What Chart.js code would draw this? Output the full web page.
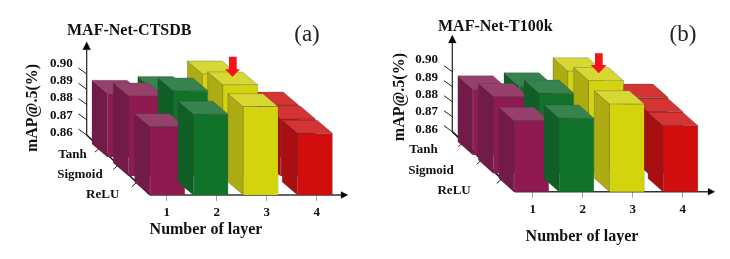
<!DOCTYPE html>
<html>
<head>
<meta charset="utf-8">
<style>
html,body{margin:0;padding:0;background:#fff;width:730px;height:259px;overflow:hidden}
canvas{position:absolute;top:0}
</style>
<script src="https://cdn.jsdelivr.net/npm/chart.js@4/dist/chart.umd.min.js"></script>
</head>
<body>
<canvas id="panelA" width="365" height="259" style="left:0"></canvas>
<canvas id="panelB" width="365" height="259" style="left:365px"></canvas>
<script>
// ---- data ----
const layers = ['1', '2', '3', '4'];
const activations = ['ReLU', 'Sigmoid', 'Tanh'];
const wallTicks = [0.86, 0.87, 0.88, 0.89, 0.90];

const ctsdbReLU    = [0.8897, 0.8951, 0.8984, 0.8868];
const ctsdbSigmoid = [0.8948, 0.8970, 0.8996, 0.8848];
const ctsdbTanh    = [0.8877, 0.8894, 0.8961, 0.8826];

const t100kReLU    = [0.8909, 0.8919, 0.8981, 0.8887];
const t100kSigmoid = [0.8933, 0.8948, 0.9003, 0.8868];
const t100kTanh    = [0.8887, 0.8900, 0.8965, 0.8851];

// ---- styling: one colour family per layer column ----
const frontColors = ['#8E1A51', '#117329', '#D4D40E', '#D10D0D'];
const topColors   = ['#96406C', '#37834F', '#D8D835', '#D43434'];
const sideColors  = ['#731B48', '#0F5F26', '#ADAC13', '#A90F10'];
const SERIF = '"Liberation Serif","Times New Roman",serif';
const INK = '#111';
const BAR_PX_PER_UNIT = 2300;   // bar height in px per 1.0 of mAP

const layoutA = {
  title:'MAF-Net-CTSDB', tag:'(a)', titleX:67, titleY:30.5, tagX:307, tagY:35,
  left:141.7, top:21, floor:195, yTitleX:33, xTitleX:206, xTitleY:230,
  labelY0:132.3, labelStep:17.1, labelRight:72.7,
  floorX:150, wallX:86.7, wallY:135, markStep:15.25, axisTop:41.7, axisEnd:348,
  colShift:[0.7,-6,-6,-1.7], rowStepX:[-21.3,-20,-20.3,-17], rowStepY:-19, depth:[-15.3,-13],
  rowTickX:[136.7,118.3,100], rowLabelRight:[119.3,102.7,86.7], rowLabelY:[194.3,175,154.3],
  arrow:[229,236.7,225,240,56.7,69.3,76.7]
};
const layoutB = {
  title:'MAF-Net-T100k', tag:'(b)', titleX:73, titleY:27.3, tagX:318, tagY:35,
  left:142.7, top:2.5, floor:191.7, yTitleX:35, xTitleX:217, xTitleY:236.7,
  labelY0:129.3, labelStep:17.3, labelRight:73,
  floorX:150, wallX:87.3, wallY:131.7, markStep:15, axisTop:35, axisEnd:350,
  colShift:[-1.3,-6.2,-5.8,-2.2], rowStepX:[-20.5,-20,-20.7,-15], rowStepY:-18.3, depth:[-15,-13.3],
  rowTickX:[136.7,116.7,98.3], rowLabelRight:[105.7,88.7,72.7], rowLabelY:[191,170.5,150],
  arrow:[230,237.7,225.7,241.7,53.3,65,73.3]
};

function poly(ctx, pts, fill){
  ctx.beginPath();
  pts.forEach((p,i)=> i ? ctx.lineTo(p[0],p[1]) : ctx.moveTo(p[0],p[1]));
  ctx.closePath();
  ctx.fillStyle = fill;
  ctx.fill();
  ctx.lineWidth = 0.6;
  ctx.strokeStyle = 'rgba(60,60,60,.45)';
  ctx.stroke();
}
function segment(ctx, x0,y0,x1,y1,w,c){
  ctx.beginPath();ctx.moveTo(x0,y0);ctx.lineTo(x1,y1);ctx.lineWidth=w;ctx.strokeStyle=c;ctx.stroke();
}

// Extrudes every library-drawn bar into an oblique box and draws the oblique axes.
const obliqueBars = {
  id:'obliqueBars',
  afterLayout(chart){
    const L = chart.options.plugins.obliqueBars.layout;
    const t = chart.titleBlock;
    t.left = L.titleX; t.right = L.titleX + 250; t.top = L.titleY - 9.6;
    const s = chart.scales.xTitle;
    s.left = L.xTitleX - 100; s.right = L.xTitleX + 100;
  },
  beforeDatasetsDraw(chart){
    const L = chart.options.plugins.obliqueBars.layout, ctx = chart.ctx;
    ctx.save();
    // depth wall ticks follow the labelled scale, compressed to the wall's spacing
    const w = chart.scales.yWall;
    wallTicks.forEach(v=>{
      const y = L.wallY - (w.getPixelForValue(wallTicks[0]) - w.getPixelForValue(v)) * L.markStep / L.labelStep;
      segment(ctx, L.wallX-8.3, y-6, L.wallX, y, 1, '#222');
    });
    segment(ctx, L.wallX, L.wallY, L.wallX, L.axisTop+6, 1.2, '#222');
    poly(ctx, [[L.wallX,L.axisTop],[L.wallX-4,L.axisTop+8],[L.wallX+4,L.axisTop+8]], '#000');
    segment(ctx, L.wallX, L.wallY, L.floorX, L.floor, 1.6, '#111');
    L.rowTickX.forEach(x=>{
      const y = L.wallY + (x-L.wallX)*(L.floor-L.wallY)/(L.floorX-L.wallX);
      segment(ctx, x, y, x-5, y+4.5, 1, '#222');
    });
    segment(ctx, L.floorX, L.floor, L.axisEnd-6, L.floor, 1.4, '#333');
    poly(ctx, [[L.axisEnd,L.floor],[L.axisEnd-7,L.floor-3.5],[L.axisEnd-7,L.floor+3.5]], '#000');
    ctx.restore();
  },
  beforeDatasetDraw(chart, args){
    const L = chart.options.plugins.obliqueBars.layout, ctx = chart.ctx;
    const row = args.index, [dx,dy] = L.depth;
    args.meta.data.forEach((el,col)=>{
      const b = el.getProps(['x','y','base','width'], true);
      const x0 = b.x - b.width/2, x1 = b.x + b.width/2;
      ctx.save();
      ctx.translate(L.colShift[col] + row*L.rowStepX[col], row*L.rowStepY);
      poly(ctx, [[x0,b.y],[x0,b.base],[x0+dx,b.base+dy],[x0+dx,b.y+dy]], sideColors[col]);
      poly(ctx, [[x0,b.y],[x1,b.y],[x1+dx,b.y+dy],[x0+dx,b.y+dy]], topColors[col]);
      el.draw(ctx);
      ctx.restore();
    });
    return false;
  },
  afterDatasetsDraw(chart){
    const L = chart.options.plugins.obliqueBars.layout, ctx = chart.ctx;
    ctx.save();
    const a = L.arrow;
    ctx.beginPath();
    ctx.moveTo(a[0],a[4]);ctx.lineTo(a[1],a[4]);ctx.lineTo(a[1],a[5]);ctx.lineTo(a[3],a[5]);
    ctx.lineTo((a[2]+a[3])/2,a[6]);ctx.lineTo(a[2],a[5]);ctx.lineTo(a[0],a[5]);ctx.closePath();
    ctx.fillStyle='#F5141C';ctx.fill();
    ctx.fillStyle=INK;ctx.textBaseline='middle';
    ctx.textAlign='right';ctx.font='bold 13px '+SERIF;
    activations.forEach((name,i)=>ctx.fillText(name,L.rowLabelRight[i],L.rowLabelY[i]));
    ctx.textAlign='center';ctx.font='23px '+SERIF;ctx.fillStyle='#222';
    ctx.fillText(L.tag,L.tagX,L.tagY);
    ctx.restore();
  }
};

function makePanel(id, L, reluVals, sigmoidVals, tanhVals){
  const H = 259, W = 365, areaRight = L.left + 200;
  const bar = {backgroundColor:frontColors, barThickness:35, grouped:false, base:wallTicks[0]};
  new Chart(document.getElementById(id), {
    type:'bar',
    data:{
      labels:layers,
      datasets:[
        {label:activations[0], data:reluVals,    ...bar},
        {label:activations[1], data:sigmoidVals, ...bar},
        {label:activations[2], data:tanhVals,    ...bar}
      ]
    },
    options:{
      responsive:false, animation:false, devicePixelRatio:1,
      layout:{padding:{top:L.top,right:W-areaRight,bottom:0,left:0}},
      datasets:{bar:{borderWidth:0.6,borderColor:'rgba(60,60,60,.45)'}},
      plugins:{
        legend:{display:false}, tooltip:{enabled:false},
        title:{display:true,text:L.title,align:'start',color:INK,
               font:{family:SERIF,size:16,weight:'bold'},padding:{top:0,bottom:-19.2}},
        obliqueBars:{layout:L}
      },
      scales:{
        x:{type:'category',position:'bottom',weight:0,offset:true,
           afterFit(s){s.height=H-L.floor-24;s.paddingLeft=s.paddingRight=0;},
           border:{display:false},
           grid:{offset:false,drawOnChartArea:false,drawTicks:true,tickLength:6,tickColor:'#86A8E0',lineWidth:1},
           ticks:{color:INK,padding:4,maxRotation:0,font:{family:SERIF,size:13,weight:'bold'}}},
        xTitle:{type:'category',axis:'x',position:'bottom',weight:1,labels:[''],
           afterFit(s){s.height=24;s.paddingLeft=s.paddingRight=0;},
           border:{display:false},grid:{display:false},ticks:{display:false},
           title:{display:true,text:'Number of layer',color:INK,
                  font:{family:SERIF,size:16,weight:'bold'},
                  padding:{top:0,bottom:H-L.xTitleY-9.6}}},
        y:{type:'linear',display:false,min:wallTicks[0],
           max:wallTicks[0]+(L.floor-L.top)/BAR_PX_PER_UNIT},
        yWall:{type:'linear',position:'left',
           min:wallTicks[0]-(L.floor-L.labelY0)/(L.labelStep*100),
           max:wallTicks[0]+(L.labelY0-L.top)/(L.labelStep*100),
           afterFit(s){s.width=L.left;s.paddingTop=s.paddingBottom=0;},
           afterBuildTicks(s){s.ticks=wallTicks.map(v=>({value:v}));},
           border:{display:false},
           grid:{display:false,drawTicks:false,tickLength:0},
           ticks:{color:INK,padding:L.left-L.labelRight,autoSkip:false,
                  font:{family:SERIF,size:13,weight:'bold'},
                  callback:v=>Number(v).toFixed(2)},
           title:{display:true,text:'mAP@.5(%)',color:INK,
                  font:{family:SERIF,size:16,weight:'bold'},
                  padding:{top:L.yTitleX-9.6,bottom:0}}}
      }
    },
    plugins:[obliqueBars]
  });
}
makePanel('panelA', layoutA, ctsdbReLU, ctsdbSigmoid, ctsdbTanh);
makePanel('panelB', layoutB, t100kReLU, t100kSigmoid, t100kTanh);
</script>
</body>
</html>
